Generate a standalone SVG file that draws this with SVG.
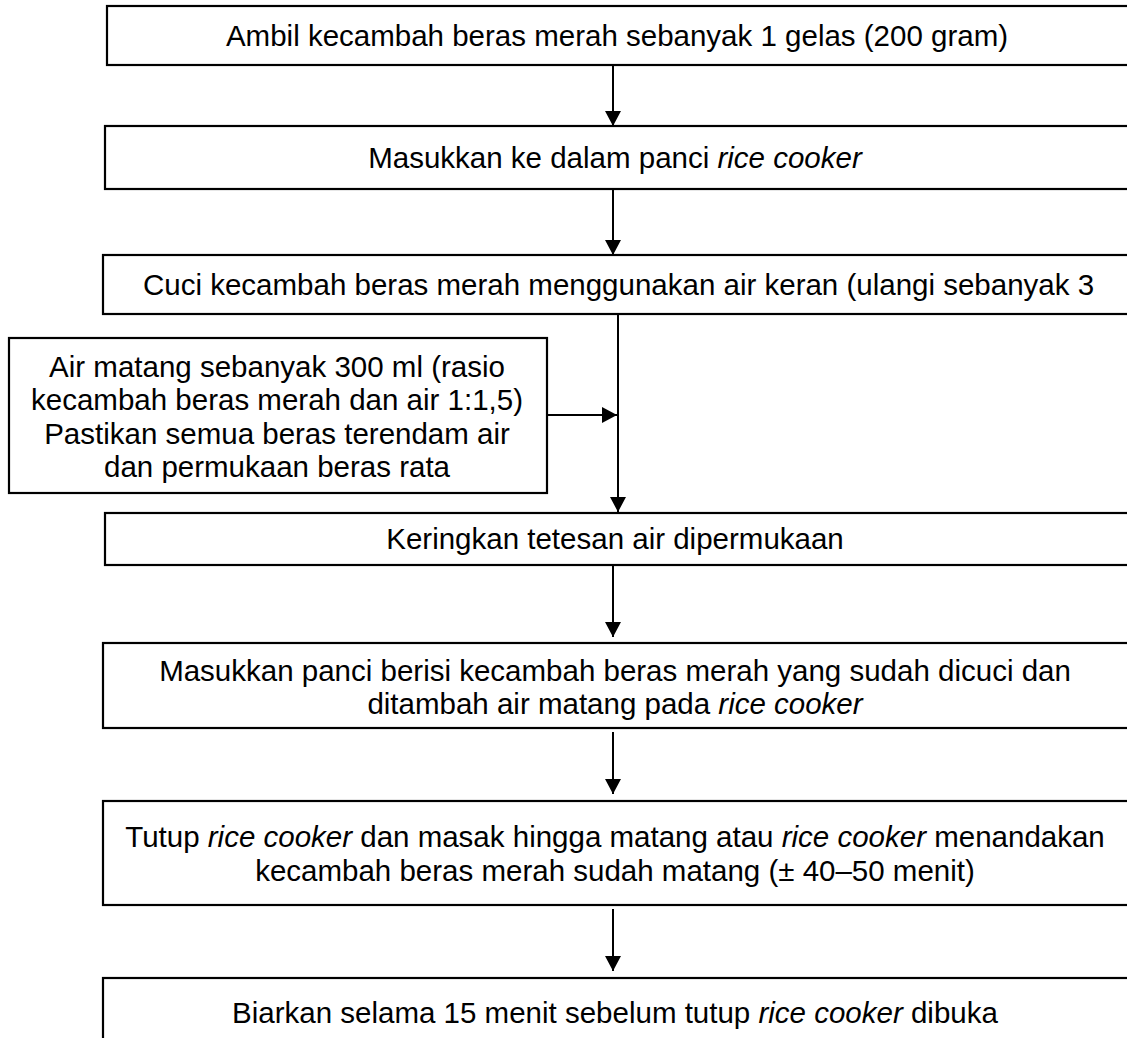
<svg xmlns="http://www.w3.org/2000/svg" width="1127" height="1038" viewBox="0 0 1127 1038">
<style>
.box{fill:#fff;stroke:#000;stroke-width:2.2}
.t{font-family:"Liberation Sans",Arial,sans-serif;font-size:29.5px;fill:#000;text-anchor:middle}
.i{font-style:italic}
.c{stroke:#000;stroke-width:2;fill:none;marker-end:url(#ah)}
</style>
<defs>
<marker id="ah" markerUnits="userSpaceOnUse" markerWidth="16" markerHeight="16" viewBox="0 0 16 16" refX="15" refY="8" orient="auto">
<path d="M0,0 L15,8 L0,16 Z" fill="#000"/>
</marker>
</defs>
<rect width="1127" height="1038" fill="#fff"/>
<g id="n1"><rect class="box" x="107" y="6" width="1030" height="59"/>
<text class="t" x="617" y="46">Ambil kecambah beras merah sebanyak 1 gelas (200 gram)</text></g>
<g id="n2"><rect class="box" x="105" y="126" width="1030" height="63"/>
<text class="t" x="615" y="168">Masukkan ke dalam panci <tspan class="i">rice cooker</tspan></text></g>
<g id="n3"><rect class="box" x="103" y="255" width="1030" height="59"/>
<text class="t" x="143" y="295" style="text-anchor:start">Cuci kecambah beras merah menggunakan air keran (ulangi sebanyak 3</text></g>
<g id="n4"><rect class="box" x="9" y="338" width="538" height="155"/>
<text class="t" x="277" y="377">Air matang sebanyak 300 ml (rasio</text>
<text class="t" x="277" y="410">kecambah beras merah dan air 1:1,5)</text>
<text class="t" x="277" y="444">Pastikan semua beras terendam air</text>
<text class="t" x="277" y="477">dan permukaan beras rata</text></g>
<g id="n5"><rect class="box" x="105" y="513" width="1030" height="52"/>
<text class="t" x="615" y="549">Keringkan tetesan air dipermukaan</text></g>
<g id="n6"><rect class="box" x="103" y="643" width="1030" height="85"/>
<text class="t" x="615" y="681">Masukkan panci berisi kecambah beras merah yang sudah dicuci dan</text>
<text class="t" x="615" y="714">ditambah air matang pada <tspan class="i">rice cooker</tspan></text></g>
<g id="n7"><rect class="box" x="103" y="801" width="1030" height="104"/>
<text class="t" x="615" y="847">Tutup <tspan class="i">rice cooker</tspan> dan masak hingga matang atau <tspan class="i">rice cooker</tspan> menandakan</text>
<text class="t" x="615" y="881">kecambah beras merah sudah matang (± 40–50 menit)</text></g>
<g id="n8"><rect class="box" x="103" y="978" width="1030" height="80"/>
<text class="t" x="615" y="1023">Biarkan selama 15 menit sebelum tutup <tspan class="i">rice cooker</tspan> dibuka</text></g>
<g id="connectors">
<path class="c" d="M613,65 V126"/>
<path class="c" d="M613,189 V255"/>
<path class="c" d="M618,314 V512"/>
<path class="c" d="M547,415 H617"/>
<path class="c" d="M613,566 V637"/>
<path class="c" d="M613,732 V794"/>
<path class="c" d="M613,909 V971"/>
</g>
</svg>
